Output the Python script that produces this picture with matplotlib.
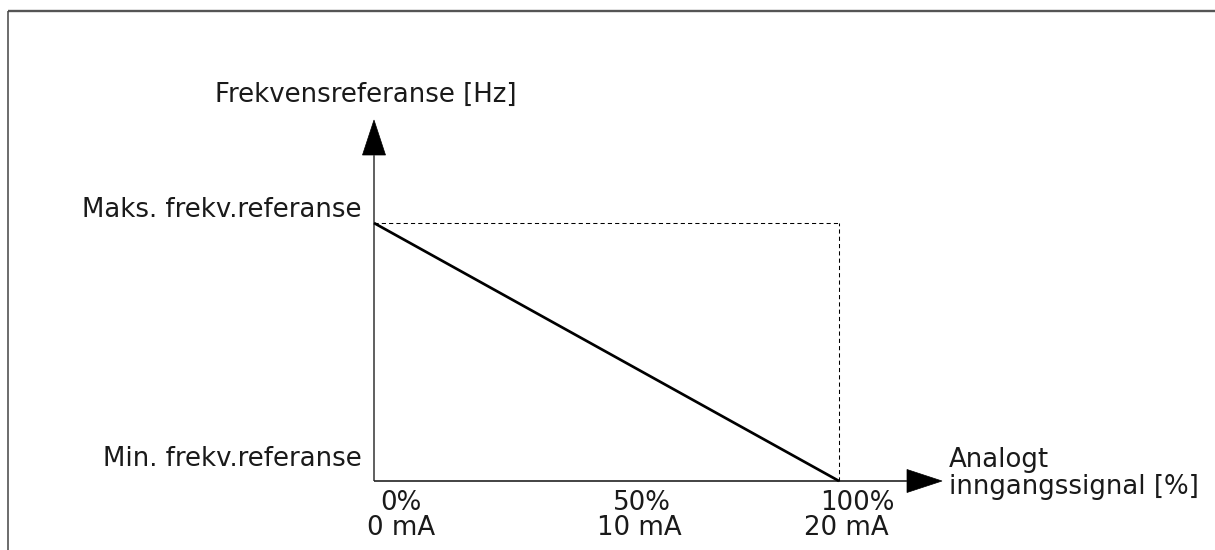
import matplotlib
matplotlib.use("Agg")
import matplotlib.pyplot as plt
from matplotlib.lines import Line2D
from matplotlib.patches import Polygon

# Characteristic: analog input signal (%) -> frequency reference (inverted)
signal_pct = [0, 100]
freq_ref = [1, 0]          # 1 = max. frequency reference, 0 = min.
tick_pct = [0, 50, 100]
tick_pct_labels = ["0%", "50%", "100%"]
tick_ma_labels = ["0 mA", "10 mA", "20 mA"]
y_level_labels = ["Min. frekv.referanse", "Maks. frekv.referanse"]
y_title = "Frekvensreferanse [Hz]"
x_title = ["Analogt", "inngangssignal [%]"]

W, H = 1215, 550
fig = plt.figure(figsize=(W / 100, H / 100), dpi=100)
fig.patch.set_facecolor("white")

# plot area: origin at (374, 481) px from top-left, x=100 at 839, y=1 at 223
ax = fig.add_axes([374 / W, (H - 481) / H, (839 - 374) / W, (481 - 223) / H])
ax.set_xlim(0, 100)
ax.set_ylim(0, 1)
ax.axis("off")

txt_color = "#1a1a1a"
fs = 18.7
px_x = 100 / 465.0   # data units per pixel (x)
px_y = 1 / 258.0     # data units per pixel (y)

# frame around the figure (top and left edges)
fig.add_artist(Line2D([8 / W, 1.0], [(H - 11) / H] * 2, transform=fig.transFigure,
                      color="#555555", lw=1.7, solid_capstyle="butt"))
fig.add_artist(Line2D([8 / W] * 2, [(H - 11) / H, 0], transform=fig.transFigure,
                      color="#444444", lw=1.1, solid_capstyle="butt"))

# axes with arrowheads
y_tip = (481 - 120) * px_y
y_base = (481 - 155) * px_y
x_tip = (942 - 374) * px_x
x_base = (907 - 374) * px_x
ax.plot([0, 0], [0, y_base], color="#444444", lw=1.2, clip_on=False, solid_capstyle="butt")
ax.plot([0, x_base], [0, 0], color="#222222", lw=1.2, clip_on=False, solid_capstyle="butt")
hw_x = 11.5 * px_x
hw_y = 11.5 * px_y
ax.add_patch(Polygon([[-hw_x, y_base], [hw_x, y_base], [0, y_tip]], closed=True,
                     facecolor="black", edgecolor="black", lw=0.5, clip_on=False))
ax.add_patch(Polygon([[x_base, -hw_y], [x_base, hw_y], [x_tip, 0]], closed=True,
                     facecolor="black", edgecolor="black", lw=0.5, clip_on=False))

# dashed guides to max reference / full signal
ax.plot([0, signal_pct[1]], [freq_ref[0], freq_ref[0]], color="black", lw=0.75,
        linestyle=(0, (4, 3)), clip_on=False)
ax.plot([signal_pct[1], signal_pct[1]], [0, freq_ref[0]], color="black", lw=0.75,
        linestyle=(0, (4, 3)), clip_on=False)

# characteristic line
ax.plot(signal_pct, freq_ref, color="black", lw=1.95, clip_on=False, solid_capstyle="butt")

def label(s, xy, dx, dy, ha="center"):
    ax.annotate(s, xy=xy, xytext=(dx, dy), textcoords="offset pixels",
                ha=ha, va="baseline", fontsize=fs, color=txt_color,
                annotation_clip=False)

# axis titles
label(y_title, (0, y_tip), -159, 18, ha="left")
label(x_title[0], (x_tip, 0), 7, 14, ha="left")
label(x_title[1], (x_tip, 0), 7, -13, ha="left")

# y level labels
label(y_level_labels[0], (0, 0), -12, 15, ha="right")
label(y_level_labels[1], (0, 1), -12, 6, ha="right")

# x tick labels (percent over mA)
pct_dx = [27, 35, 18]
ma_dx = [27, 33, 7]
for x, p, m, dp, dm in zip(tick_pct, tick_pct_labels, tick_ma_labels, pct_dx, ma_dx):
    label(p, (x, 0), dp, -29)
    label(m, (x, 0), dm, -54)

fig.savefig("out.png", dpi=100, facecolor="white")
